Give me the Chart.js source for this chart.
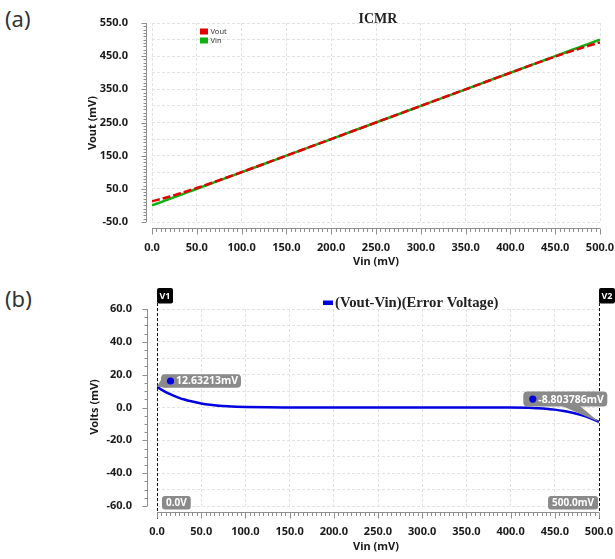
<!DOCTYPE html>
<html>
<head>
<meta charset="utf-8">
<title>ICMR</title>
<script src="https://cdn.jsdelivr.net/npm/chart.js@4.4.1/dist/chart.umd.min.js"></script>
<style>
  html, body { margin: 0; padding: 0; background: #fff; }
  body { position: relative; width: 615px; height: 559px; overflow: hidden; font-family: "Noto Sans", sans-serif; }
  .panel-tag { position: absolute; left: 5px; font-size: 22px; line-height: 1; color: #333; }
  canvas { position: absolute; left: 0; }
</style>
</head>
<body>
<div class="panel-tag" style="top:7px">(a)</div>
<div class="panel-tag" style="top:287px">(b)</div>
<canvas id="icmr" width="615" height="280" style="top:0"></canvas>
<canvas id="error" width="615" height="279" style="top:280px"></canvas>
<script>
// DC sweep of the buffer input, mV
const vinMv = [0, 5, 10, 15, 20, 25, 30, 40, 50, 60, 70, 80, 90, 100, 125, 150, 200, 250, 300, 350, 400, 420, 430, 440, 450, 460, 470, 480, 490, 500];
const voutMv = [12.63213, 15.9, 19.4, 23.1, 26.9, 30.9, 35.0, 43.6, 52.5, 61.7, 71.1, 80.7, 90.45, 100.3, 125.1, 150.05, 200, 250, 300, 350, 399.95, 419.8, 429.6, 439.3, 448.7, 457.9, 466.8, 475.4, 483.5, 491.196214];
const errorMv = [12.63213, 10.9, 9.4, 8.1, 6.9, 5.9, 5.0, 3.6, 2.5, 1.7, 1.1, 0.7, 0.45, 0.3, 0.1, 0.05, 0, 0, 0, 0, -0.05, -0.2, -0.4, -0.7, -1.3, -2.1, -3.2, -4.6, -6.5, -8.803786];

// axis labels
const vinTicks = [0, 50, 100, 150, 200, 250, 300, 350, 400, 450, 500];
const voutTicks = [-50, 50, 150, 250, 350, 450, 550];
const errorTicks = [-60, -40, -20, 0, 20, 40, 60];

// cursors on the error plot
const cursorNames = ["V1", "V2"];
const cursorX = [0, 500];
const cursorTags = ["0.0V", "500.0mV"];

const sansFamily = '"Noto Sans", sans-serif';
const serifFamily = '"Liberation Serif", "Times New Roman", serif';
const tickFont = { family: sansFamily, size: 11, weight: "bold" };
const gridColor = "#e3e3e3";
const axisColor = "#8e8e8e";
const calloutGray = "#8a8a8a";

const isMultiple = (v, step) => Math.abs(v / step - Math.round(v / step)) < 1e-6;
const fmt1 = (v) => Number(v).toFixed(1);

const points = (ys) => vinMv.map((x, i) => ({ x, y: ys[i] }));

// offset axis lines with minor/major tick marks, plus axis titles
function axisFrame(cfg) {
  return {
    id: "axisFrame",
    afterDraw(chart) {
      const { ctx, chartArea: a } = chart;
      const { x, y } = chart.scales;
      const ax = Math.round(a.left - cfg.gapX) + 0.5;
      const ay = Math.round(a.bottom + cfg.gapY) + 0.5;
      ctx.save();
      ctx.strokeStyle = axisColor;
      ctx.lineWidth = 1;
      ctx.beginPath();
      ctx.moveTo(ax, a.top);
      ctx.lineTo(ax, a.bottom);
      ctx.moveTo(a.left, ay);
      ctx.lineTo(a.right, ay);
      for (let v = y.min; v <= y.max + 1e-9; v += cfg.yMinor) {
        const py = Math.round(y.getPixelForValue(v)) + 0.5;
        const len = isMultiple(v - cfg.yBase, cfg.yMajor) ? 5 : 3;
        ctx.moveTo(ax - len, py);
        ctx.lineTo(ax, py);
      }
      for (let v = x.min; v <= x.max + 1e-9; v += cfg.xMinor) {
        const px = Math.round(x.getPixelForValue(v)) + 0.5;
        const len = isMultiple(v, cfg.xMajor) ? 6 : 3.5;
        ctx.moveTo(px, ay);
        ctx.lineTo(px, ay + len);
      }
      ctx.stroke();

      ctx.fillStyle = "#1a1a1a";
      ctx.font = "bold 11px " + sansFamily;
      ctx.textAlign = "center";
      ctx.textBaseline = "middle";
      ctx.fillText(cfg.xTitle, cfg.xTitleAt[0], cfg.xTitleAt[1]);
      ctx.translate(cfg.yTitleAt[0], cfg.yTitleAt[1]);
      ctx.rotate(-Math.PI / 2);
      ctx.fillText(cfg.yTitle, 0, 0);
      ctx.restore();
    },
  };
}

function fixedBox(width, height) {
  return (s) => {
    if (width) s.width = width;
    if (height) s.height = height;
    s.paddingLeft = s.paddingRight = s.paddingTop = s.paddingBottom = 0;
  };
}

function linearAxis(min, max, step, labels, padding, fit) {
  return {
    type: "linear",
    min,
    max,
    afterFit: fit,
    ticks: {
      stepSize: step,
      autoSkip: false,
      maxRotation: 0,
      padding,
      color: "#1a1a1a",
      font: tickFont,
      callback: (v) => (labels.includes(v) ? fmt1(v) : ""),
    },
    grid: { color: gridColor, lineWidth: 1, drawTicks: false },
    border: { display: false, dash: [3, 2] },
  };
}

// ---------- (a) ICMR ----------
const icmrDecor = {
  id: "icmrDecor",
  afterDraw(chart) {
    const { ctx } = chart;
    ctx.save();
    ctx.fillStyle = "#222";
    ctx.font = "bold 14px " + serifFamily;
    ctx.textAlign = "center";
    ctx.textBaseline = "middle";
    ctx.fillText("ICMR", 378, 19);

    ctx.font = "7.5px " + sansFamily;
    ctx.textAlign = "left";
    chart.data.datasets.forEach((ds, i) => {
      const top = 28.5 + i * 9;
      ctx.fillStyle = ds.borderColor;
      ctx.fillRect(200, top, 8, 6);
      ctx.fillStyle = "#333";
      ctx.fillText(ds.label, 210.5, top + 3);
    });
    ctx.restore();
  },
};

function initIcmrChart() {
  return new Chart(document.getElementById("icmr"), {
    type: "line",
    data: {
      datasets: [
        {
          label: "Vout",
          data: points(voutMv),
          borderColor: "#e40000",
          borderWidth: 2.5,
          borderDash: [8, 3],
          order: 0,
        },
        {
          label: "Vin",
          data: points(vinMv),
          borderColor: "#10b010",
          borderWidth: 2.5,
          order: 1,
        },
      ],
    },
    options: {
      responsive: false,
      devicePixelRatio: 1,
      animation: false,
      layout: { padding: { left: 0, top: 23, right: 15, bottom: 0 } },
      elements: { point: { radius: 0 }, line: { tension: 0.3, cubicInterpolationMode: "monotone" } },
      plugins: { legend: { display: false }, tooltip: { enabled: false } },
      scales: {
        x: linearAxis(0, 500, 50, vinTicks, 19, fixedBox(0, 58)),
        y: linearAxis(-50, 550, 50, voutTicks, 24, fixedBox(152, 0)),
      },
    },
    plugins: [
      axisFrame({
        gapX: 6.3, gapY: 6.3,
        yMinor: 10, yMajor: 100, yBase: -50,
        xMinor: 5, xMajor: 50,
        xTitle: "Vin (mV)", xTitleAt: [376, 262],
        yTitle: "Vout (mV)", yTitleAt: [92.5, 123],
      }),
      icmrDecor,
    ],
  });
}

// ---------- (b) error voltage ----------
function callout(ctx, text, boxX, boxY, boxW, boxH, tail) {
  ctx.fillStyle = calloutGray;
  ctx.beginPath();
  ctx.roundRect(boxX, boxY, boxW, boxH, 4);
  ctx.fill();
  ctx.beginPath();
  ctx.moveTo(tail[0][0], tail[0][1]);
  ctx.lineTo(tail[1][0], tail[1][1]);
  ctx.lineTo(tail[2][0], tail[2][1]);
  ctx.closePath();
  ctx.fill();
  ctx.fillStyle = "#0000e0";
  ctx.beginPath();
  ctx.arc(boxX + 9.5, boxY + boxH / 2, 3.6, 0, Math.PI * 2);
  ctx.fill();
  ctx.fillStyle = "#fff";
  ctx.font = "bold 10.5px " + sansFamily;
  ctx.textAlign = "left";
  ctx.textBaseline = "middle";
  ctx.fillText(text, boxX + 15, boxY + boxH / 2 + 0.5);
}

const errorDecor = {
  id: "errorDecor",
  afterDatasetsDraw(chart) {
    const { ctx, chartArea: a } = chart;
    const { x, y } = chart.scales;
    ctx.save();

    // legend
    const ds = chart.data.datasets[0];
    ctx.fillStyle = ds.borderColor;
    ctx.fillRect(323, 20.5, 10, 4.5);
    ctx.fillStyle = "#222";
    ctx.font = "bold 14.7px " + serifFamily;
    ctx.textAlign = "left";
    ctx.textBaseline = "middle";
    ctx.fillText(ds.label, 335, 23.5);

    // cursors
    cursorX.forEach((cx, i) => {
      const px = Math.round(x.getPixelForValue(cx)) + 0.5;
      ctx.strokeStyle = "#111";
      ctx.lineWidth = 1;
      ctx.setLineDash([3, 2]);
      ctx.beginPath();
      ctx.moveTo(px, 23);
      ctx.lineTo(px, a.bottom + 13);
      ctx.stroke();
      ctx.setLineDash([]);

      ctx.fillStyle = "#000";
      ctx.beginPath();
      ctx.roundRect(px - 0.5, 8, 16, 15.5, 2);
      ctx.fill();
      ctx.fillStyle = "#fff";
      ctx.font = "bold 9px " + sansFamily;
      ctx.textAlign = "center";
      ctx.fillText(cursorNames[i], px + 7.5, 16);

      ctx.font = "bold 10px " + sansFamily;
      const w = ctx.measureText(cursorTags[i]).width + 8;
      const left = i === 0 ? px + 4.5 : px - 1.5 - w;
      ctx.fillStyle = calloutGray;
      ctx.beginPath();
      ctx.roundRect(left, 216, w, 13.5, 3);
      ctx.fill();
      ctx.fillStyle = "#fff";
      ctx.textAlign = "center";
      ctx.fillText(cursorTags[i], left + w / 2, 223);
    });

    // values at the cursors
    const first = errorMv[0];
    const last = errorMv[errorMv.length - 1];
    const p0 = [x.getPixelForValue(vinMv[0]), y.getPixelForValue(first)];
    const p1 = [x.getPixelForValue(vinMv[vinMv.length - 1]), y.getPixelForValue(last)];

    callout(ctx, first + "mV", p0[0] + 4, p0[1] - 12.5, 80, 13.5,
      [[p0[0] + 4, p0[1] - 7], p0, [p0[0] + 11, p0[1] + 1]]);
    callout(ctx, last + "mV", p1[0] - 75.7, p1[1] - 30.4, 84, 15,
      [[p1[0] - 37, p1[1] - 16], p1, [p1[0] - 19, p1[1] - 16]]);

    ctx.restore();
  },
};

function initErrorChart() {
  return new Chart(document.getElementById("error"), {
    type: "line",
    data: {
      datasets: [
        {
          label: "(Vout-Vin)(Error Voltage)",
          data: points(errorMv),
          borderColor: "#0000e0",
          borderWidth: 2.5,
        },
      ],
    },
    options: {
      responsive: false,
      devicePixelRatio: 1,
      animation: false,
      layout: { padding: { left: 0, top: 29, right: 16, bottom: 0 } },
      elements: { point: { radius: 0 }, line: { tension: 0.3, cubicInterpolationMode: "monotone" } },
      plugins: { legend: { display: false }, tooltip: { enabled: false } },
      scales: {
        x: linearAxis(0, 500, 50, vinTicks, 19, fixedBox(0, 53)),
        y: linearAxis(-60, 60, 10, errorTicks, 25, fixedBox(157, 0)),
      },
    },
    plugins: [
      axisFrame({
        gapX: 10, gapY: 5.7,
        yMinor: 5, yMajor: 20, yBase: 0,
        xMinor: 5, xMajor: 50,
        xTitle: "Vin (mV)", xTitleAt: [376, 267],
        yTitle: "Volts (mV)", yTitleAt: [95, 127],
      }),
      errorDecor,
    ],
  });
}

initIcmrChart();
initErrorChart();
</script>
</body>
</html>
